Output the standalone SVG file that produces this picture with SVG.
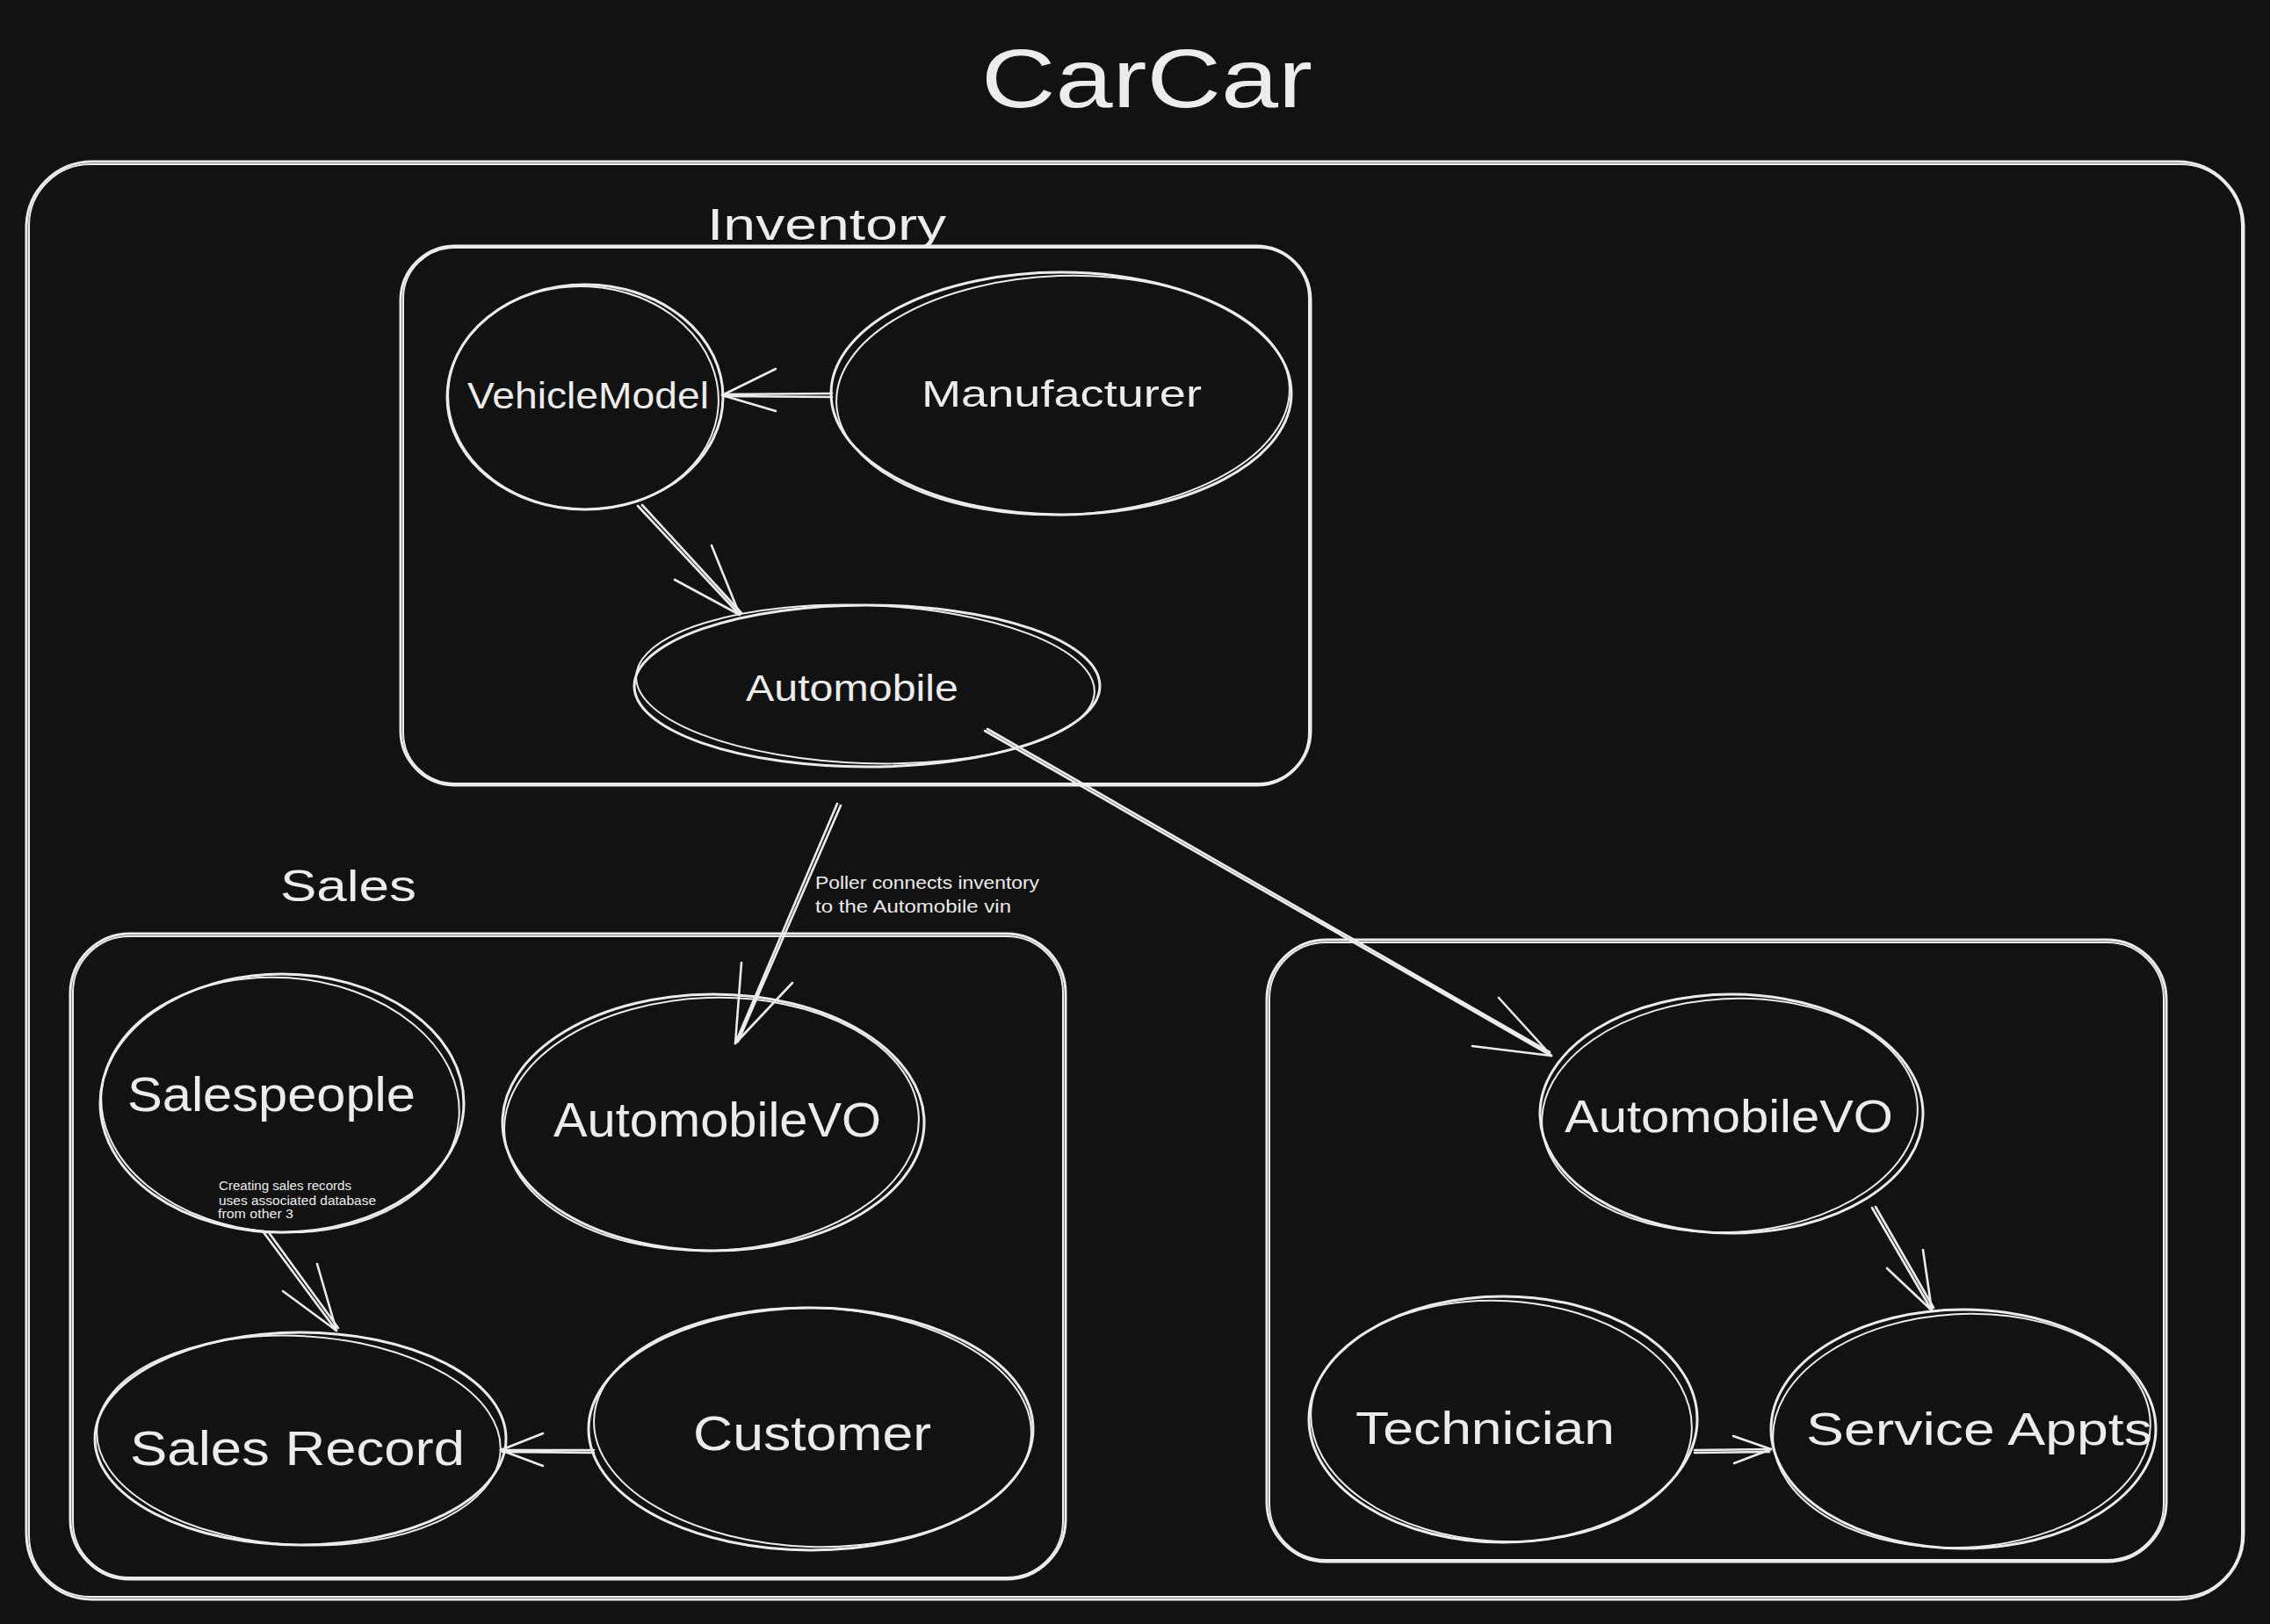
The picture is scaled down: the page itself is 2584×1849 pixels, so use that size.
<svg xmlns="http://www.w3.org/2000/svg" width="2584" height="1849" viewBox="0 0 2584 1849">
<style>
.s{fill:none;stroke:#ececec;stroke-width:3;stroke-linecap:round;stroke-linejoin:round}
.t{stroke-width:2}
.a{fill:none;stroke:#ececec;stroke-width:2.6;stroke-linecap:round;stroke-linejoin:round}
text{fill:#ececec;font-family:"Liberation Sans","Noto Sans",sans-serif}
</style>
<rect width="2584" height="1849" fill="#121212"/>

<g id="title"><text x="1117" y="122" font-size="95" textLength="377" lengthAdjust="spacingAndGlyphs">CarCar</text></g>

<g id="carcar-frame">
<rect class="s" x="30" y="184" width="2524" height="1637" rx="75"/>
<rect class="s t" x="33" y="187" width="2519" height="1631" rx="70"/>
</g>

<g id="inventory">
<rect class="s" x="456" y="280" width="1036" height="614" rx="62"/>
<rect class="s t" x="459" y="282" width="1031" height="610" rx="58"/>
<text x="805" y="273" font-size="50" textLength="272" lengthAdjust="spacingAndGlyphs">Inventory</text>
</g>

<g id="vehiclemodel">
<ellipse class="s" cx="666" cy="452" rx="157" ry="128"/>
<ellipse class="s t" cx="664" cy="453" rx="154" ry="127" transform="rotate(3 664 453)"/>
<text x="532" y="465" font-size="43" textLength="275" lengthAdjust="spacingAndGlyphs">VehicleModel</text>
</g>

<g id="manufacturer">
<ellipse class="s" cx="1208" cy="448" rx="262" ry="138"/>
<ellipse class="s t" cx="1210" cy="450" rx="258" ry="136" transform="rotate(-2 1210 450)"/>
<text x="1049" y="463" font-size="43" textLength="319" lengthAdjust="spacingAndGlyphs">Manufacturer</text>
</g>

<g id="automobile">
<ellipse class="s" cx="987" cy="781" rx="265" ry="92"/>
<ellipse class="s t" cx="985" cy="779" rx="261" ry="90" transform="rotate(2 985 779)"/>
<text x="849" y="798" font-size="43" textLength="242" lengthAdjust="spacingAndGlyphs">Automobile</text>
</g>

<g id="sales">
<rect class="s" x="80" y="1063" width="1133" height="735" rx="68"/>
<rect class="s t" x="83" y="1066" width="1127" height="730" rx="64"/>
<text x="319" y="1026" font-size="50" textLength="155" lengthAdjust="spacingAndGlyphs">Sales</text>
</g>

<g id="salespeople">
<ellipse class="s" cx="321" cy="1256" rx="207" ry="147"/>
<ellipse class="s t" cx="319" cy="1258" rx="204" ry="145" transform="rotate(4 319 1258)"/>
<text x="145" y="1265" font-size="56" textLength="328" lengthAdjust="spacingAndGlyphs">Salespeople</text>
</g>

<g id="sales-automobilevo">
<ellipse class="s" cx="812" cy="1278" rx="240" ry="146"/>
<ellipse class="s t" cx="810" cy="1280" rx="236" ry="144" transform="rotate(-2 810 1280)"/>
<text x="630" y="1294" font-size="56" textLength="373" lengthAdjust="spacingAndGlyphs">AutomobileVO</text>
</g>

<g id="sales-record">
<ellipse class="s" cx="342" cy="1638" rx="234" ry="121"/>
<ellipse class="s t" cx="340" cy="1640" rx="230" ry="119" transform="rotate(3 340 1640)"/>
<text x="148" y="1668" font-size="56" textLength="381" lengthAdjust="spacingAndGlyphs">Sales Record</text>
</g>

<g id="customer">
<ellipse class="s" cx="923" cy="1627" rx="253" ry="138"/>
<ellipse class="s t" cx="925" cy="1625" rx="249" ry="136" transform="rotate(2 925 1625)"/>
<text x="789" y="1651" font-size="56" textLength="271" lengthAdjust="spacingAndGlyphs">Customer</text>
</g>

<g id="service">
<rect class="s" x="1442" y="1070" width="1024" height="708" rx="68"/>
<rect class="s t" x="1445" y="1073" width="1018" height="703" rx="64"/>
</g>

<g id="service-automobilevo">
<ellipse class="s" cx="1971" cy="1268" rx="218" ry="136"/>
<ellipse class="s t" cx="1969" cy="1270" rx="214" ry="133" transform="rotate(-3 1969 1270)"/>
<text x="1781" y="1289" font-size="52" textLength="374" lengthAdjust="spacingAndGlyphs">AutomobileVO</text>
</g>

<g id="technician">
<ellipse class="s" cx="1711" cy="1616" rx="221" ry="140"/>
<ellipse class="s t" cx="1709" cy="1618" rx="217" ry="137" transform="rotate(3 1709 1618)"/>
<text x="1543" y="1644" font-size="52" textLength="295" lengthAdjust="spacingAndGlyphs">Technician</text>
</g>

<g id="service-appts">
<ellipse class="s" cx="2235" cy="1627" rx="219" ry="136"/>
<ellipse class="s t" cx="2233" cy="1629" rx="215" ry="133" transform="rotate(-3 2233 1629)"/>
<text x="2056" y="1645" font-size="52" textLength="394" lengthAdjust="spacingAndGlyphs">Service Appts</text>
</g>

<g id="notes">
<text font-size="21"><tspan x="928" y="1012" textLength="255" lengthAdjust="spacingAndGlyphs">Poller connects inventory</tspan><tspan x="928" y="1039" textLength="223" lengthAdjust="spacingAndGlyphs">to the Automobile vin</tspan></text>
<text font-size="14"><tspan x="249" y="1355" textLength="151" lengthAdjust="spacingAndGlyphs">Creating sales records</tspan><tspan x="249" y="1372" textLength="179" lengthAdjust="spacingAndGlyphs">uses associated database</tspan><tspan x="248" y="1387" textLength="86" lengthAdjust="spacingAndGlyphs">from other 3</tspan></text>
</g>

<g id="connectors">
<!-- Manufacturer -> VehicleModel -->
<path class="a" d="M947 448 L822 449 M947 452 L824 451"/>
<path class="a" d="M883 420 L822 450 L883 468"/>
<!-- VehicleModel -> Automobile -->
<path class="a" d="M726 576 L842 700 M731 575 L844 698"/>
<path class="a" d="M768 660 L842 700 L810 621"/>
<!-- Automobile -> Sales AutomobileVO (Poller) -->
<path class="a" d="M953 915 L837 1188 M957 917 L840 1186"/>
<path class="a" d="M844 1096 L837 1188 L902 1119"/>
<!-- Automobile -> Service AutomobileVO -->
<path class="a" d="M1121 832 L1766 1202 M1124 830 L1764 1198"/>
<path class="a" d="M1706 1136 L1766 1202 L1676 1191"/>
<!-- Salespeople -> Sales Record -->
<path class="a" d="M300 1403 L383 1515 M305 1402 L385 1512"/>
<path class="a" d="M322 1470 L383 1515 L361 1439"/>
<!-- Customer -> Sales Record -->
<path class="a" d="M676 1651 L570 1651 M676 1654 L572 1653"/>
<path class="a" d="M618 1632 L570 1651 L618 1669"/>
<!-- Service AutomobileVO -> Service Appts -->
<path class="a" d="M2131 1375 L2199 1492 M2135 1374 L2201 1489"/>
<path class="a" d="M2148 1444 L2199 1492 L2189 1423"/>
<!-- Technician -> Service Appts -->
<path class="a" d="M1929 1651 L2016 1650 M1929 1654 L2014 1653"/>
<path class="a" d="M1973 1635 L2016 1650 L1974 1666"/>
</g>
</svg>
